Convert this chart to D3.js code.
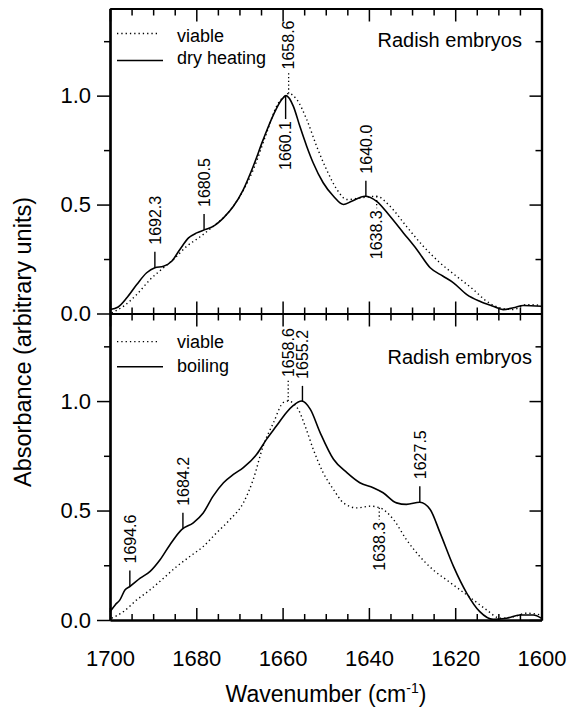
<!DOCTYPE html>
<html>
<head>
<meta charset="utf-8">
<script src="https://cdn.jsdelivr.net/npm/d3@7"></script>
<style>
  body { margin: 0; background: #fff; }
  text { font-family: "Liberation Sans", Arial, sans-serif; fill: #000; }
</style>
</head>
<body>
<div id="chart"></div>
<script>
// ---- data ----
// top panel: dry heating vs viable
dryW = [1700, 1698.1, 1696.1, 1693.8, 1691.5, 1689.6, 1687.6, 1685.7, 1683.8, 1681.8, 1679.9, 1678, 1676.1, 1673.7, 1671.4, 1669.1, 1666.8, 1664.5, 1662.1, 1660.2, 1659.2, 1657.5, 1656, 1654.4, 1652.9, 1650.6, 1648.2, 1645.9, 1644, 1640.9, 1638.2, 1635.1, 1632, 1628.9, 1625.8, 1622.8, 1620.4, 1617.3, 1614.3, 1611.2, 1608.9, 1606.5, 1604.2, 1600]
dryA = [0.018, 0.03, 0.072, 0.133, 0.187, 0.21, 0.217, 0.24, 0.294, 0.347, 0.37, 0.385, 0.40, 0.439, 0.492, 0.569, 0.676, 0.798, 0.913, 0.982, 1.0, 0.951, 0.859, 0.767, 0.691, 0.6, 0.538, 0.5, 0.515, 0.538, 0.515, 0.446, 0.37, 0.294, 0.21, 0.171, 0.141, 0.087, 0.056, 0.033, 0.018, 0.026, 0.037, 0.033]
viableTopW = [1699.6, 1696.9, 1693.8, 1690.7, 1687.6, 1685.3, 1682.2, 1679.1, 1676.1, 1673, 1669.9, 1666.8, 1663.7, 1661.4, 1659.4, 1658.6, 1656.7, 1654.4, 1652.1, 1649.8, 1647.4, 1645.1, 1642.1, 1638.2, 1635.1, 1631.3, 1627.4, 1623.5, 1619.7, 1615.8, 1612.7, 1609.6, 1606.5, 1603.5, 1600]
viableTopA = [0.003, 0.033, 0.087, 0.156, 0.21, 0.248, 0.309, 0.352, 0.40, 0.454, 0.538, 0.66, 0.829, 0.951, 1.0, 1.01, 0.982, 0.89, 0.767, 0.66, 0.569, 0.523, 0.53, 0.538, 0.492, 0.40, 0.309, 0.232, 0.171, 0.11, 0.056, 0.026, 0.018, 0.041, 0.037]

// bottom panel: boiling vs viable
boilW = [1700, 1698.8, 1697.7, 1696.5, 1695.4, 1693, 1690.7, 1688.4, 1686.1, 1683.4, 1680.7, 1678.4, 1676.1, 1673.7, 1671.4, 1669.1, 1666, 1663.7, 1661.4, 1659.1, 1657.5, 1655.6, 1653.6, 1651.3, 1648.2, 1645.1, 1642.1, 1639, 1636.7, 1633.6, 1631.3, 1628.2, 1625.8, 1623.5, 1620.4, 1617.3, 1614.3, 1611.2, 1608.1, 1605, 1601.9, 1600]
boilA = [0.038, 0.069, 0.092, 0.138, 0.153, 0.191, 0.222, 0.275, 0.344, 0.413, 0.444, 0.489, 0.566, 0.627, 0.665, 0.696, 0.757, 0.826, 0.887, 0.948, 0.98, 1.0, 0.963, 0.856, 0.734, 0.673, 0.627, 0.604, 0.581, 0.535, 0.528, 0.538, 0.505, 0.398, 0.245, 0.122, 0.038, 0.003, 0.008, 0.023, 0.023, 0.008]
viableBotW = [1699.6, 1696.9, 1693.8, 1690.7, 1687.6, 1684.5, 1681.5, 1678.4, 1675.3, 1672.2, 1669.1, 1666.8, 1664.5, 1662.1, 1659.8, 1658.7, 1656.4, 1654.8, 1652.9, 1650.6, 1648.2, 1645.9, 1642.8, 1639.7, 1637.4, 1634.3, 1631.3, 1628.2, 1625.1, 1622, 1618.9, 1615.8, 1612.7, 1609.6, 1606.5, 1603.5, 1600]
viableBotA = [0.008, 0.038, 0.092, 0.138, 0.191, 0.245, 0.29, 0.336, 0.398, 0.459, 0.535, 0.642, 0.795, 0.902, 0.994, 1.0, 0.963, 0.887, 0.78, 0.673, 0.596, 0.535, 0.512, 0.52, 0.512, 0.459, 0.367, 0.29, 0.229, 0.183, 0.138, 0.092, 0.046, 0.008, 0.015, 0.031, 0.023]

// peak annotations
topMarkLabels = ["1692.3", "1680.5", "1658.6", "1660.1", "1640.0", "1638.3"]
topMarkAt = [1689.6, 1678.2, 1658.6, 1659.3, 1640.7, 1638.2]
topMarkSeries = ["treated", "treated", "viable", "treated", "treated", "viable"]
topMarkDir = ["up", "up", "up", "down", "up", "down"]
botMarkLabels = ["1694.6", "1684.2", "1658.6", "1655.2", "1627.5", "1638.3"]
botMarkAt = [1695.4, 1683.1, 1658.7, 1655.4, 1628.2, 1637.6]
botMarkSeries = ["treated", "treated", "viable", "treated", "treated", "viable"]
botMarkDir = ["up", "up", "up", "up", "up", "down"]

topLegend = ["viable", "dry heating"]
botLegend = ["viable", "boiling"]
panelTitle = "Radish embryos"

xMajor = [1700, 1680, 1660, 1640, 1620, 1600]
xMinor = d3.range(1695, 1600, -5).filter(d => d % 20 != 0)
yMajor = [0, 0.5, 1.0]
yMinor = [0.25, 0.75, 1.25]

// ---- layout ----
width = 569, height = 717
svg = d3.select("#chart").append("svg")
  .attr("width", width).attr("height", height)

x = d3.scaleLinear().domain([1700, 1600]).range([110, 541.5])
yTop = d3.scaleLinear().domain([0, 1.4]).range([313.5, 8.5])
yBot = d3.scaleLinear().domain([0, 1.4]).range([620, 313.5])

zip = (w, a) => w.map((d, i) => ({w: d, a: a[i]}))
panels = [
  {y: yTop, viable: zip(viableTopW, viableTopA), treated: zip(dryW, dryA), legend: topLegend,
   marks: topMarkLabels.map((l, i) => ({label: l, at: topMarkAt[i], series: topMarkSeries[i], dir: topMarkDir[i]})),
   legendY: [33.5, 60.5], legendBase: [41.5, 63.5], titleBase: 47},
  {y: yBot, viable: zip(viableBotW, viableBotA), treated: zip(boilW, boilA), legend: botLegend,
   marks: botMarkLabels.map((l, i) => ({label: l, at: botMarkAt[i], series: botMarkSeries[i], dir: botMarkDir[i]})),
   legendY: [341.7, 366.7], legendBase: [348, 371.5], titleBase: 364}
]

// linear lookup of a curve value at wavenumber w
function valueAt(pts, w) {
  for (let i = 0; i < pts.length - 1; i++) {
    let p = pts[i], q = pts[i + 1]
    if (w <= p.w && w >= q.w) return p.a + (q.a - p.a) * (p.w - w) / (p.w - q.w)
  }
  return pts[pts.length - 1].a
}

function styleAxis(g, sw) {
  g.select(".domain").attr("stroke", "#000").attr("stroke-width", 2)
  g.selectAll(".tick line").attr("stroke", "#000").attr("stroke-width", sw || 1.5)
  g.selectAll("text").remove()
}

panels.forEach(function(p, pi) {
  let y = p.y
  let y0 = y.range()[0], y1 = y.range()[1]

  // curves
  let line = d3.line().x(d => x(d.w)).y(d => y(d.a)).curve(d3.curveMonotoneX)
  svg.append("path").datum(p.viable)
    .attr("d", line).attr("fill", "none").attr("stroke", "#000")
    .attr("stroke-width", 1.4).attr("stroke-dasharray", "1.3,3")
  svg.append("path").datum(p.treated)
    .attr("d", line).attr("fill", "none").attr("stroke", "#000")
    .attr("stroke-width", 1.6)

  // left axis, ticks outward
  svg.append("g").attr("transform", `translate(${x.range()[0]},0)`)
    .call(d3.axisLeft(y).tickValues(yMajor).tickSize(13).tickSizeOuter(0)).call(styleAxis)
  svg.append("g").attr("transform", `translate(${x.range()[0]},0)`)
    .call(d3.axisLeft(y).tickValues(yMinor).tickSize(6).tickSizeOuter(0)).call(styleAxis)
  svg.append("g").attr("transform", `translate(${x.range()[0]},0)`)
    .call(d3.axisLeft(y).tickValues(yMajor).tickSize(0).tickPadding(19).tickFormat(d3.format(".1f")))
    .call(g => g.select(".domain").remove())
    .selectAll("text").style("font-size", "22px")

  // right axis, ticks inward
  svg.append("g").attr("transform", `translate(${x.range()[1]},0)`)
    .call(d3.axisRight(y).tickValues(yMajor).tickSize(-12).tickSizeOuter(0)).call(styleAxis)
  svg.append("g").attr("transform", `translate(${x.range()[1]},0)`)
    .call(d3.axisRight(y).tickValues(yMinor).tickSize(-6).tickSizeOuter(0)).call(styleAxis)

  // top and bottom of the panel, ticks inward
  svg.append("g").attr("transform", `translate(0,${y1})`)
    .call(d3.axisTop(x).tickValues(xMajor).tickSize(-13).tickSizeOuter(0)).call(styleAxis)
  svg.append("g").attr("transform", `translate(0,${y1})`)
    .call(d3.axisTop(x).tickValues(xMinor).tickSize(-7).tickSizeOuter(0)).call(styleAxis)
  svg.append("g").attr("transform", `translate(0,${y0})`)
    .call(d3.axisBottom(x).tickValues(xMajor).tickSize(-12).tickSizeOuter(0)).call(g => styleAxis(g, 1.5))
  svg.append("g").attr("transform", `translate(0,${y0})`)
    .call(d3.axisBottom(x).tickValues(xMinor).tickSize(-6).tickSizeOuter(0)).call(styleAxis)
  svg.selectAll(".domain").attr("stroke-width", 2.2)

  // legend
  p.legend.forEach(function(l, i) {
    svg.append("line")
      .attr("x1", 117).attr("x2", i == 0 ? 160 : 163)
      .attr("y1", p.legendY[i]).attr("y2", p.legendY[i])
      .attr("stroke", "#000").attr("stroke-width", i == 0 ? 1.3 : 1.6)
      .attr("stroke-dasharray", i == 0 ? "1.3,3" : null)
    svg.append("text").attr("x", 177).attr("y", p.legendBase[i])
      .style("font-size", "18px").text(l)
  })

  svg.append("text")
    .attr("x", pi == 0 ? 522 : 532).attr("y", p.titleBase)
    .attr("text-anchor", "end").style("font-size", "20px")
    .text(panelTitle)

  // peak markers
  p.marks.forEach(function(m) {
    let pts = m.series == "viable" ? p.viable : p.treated
    let cx = x(m.at), cy = y(valueAt(pts, m.at))
    let dotted = m.series == "viable"
    let len = m.dir == "up" ? (dotted ? 22 : 16) : (dotted ? 12 : 23)
    let gap = (m.dir == "up" && !dotted) ? 7 : 2
    let ey = m.dir == "up" ? cy - len : cy + len
    svg.append("line")
      .attr("x1", cx).attr("x2", cx).attr("y1", cy).attr("y2", ey)
      .attr("stroke", "#000").attr("stroke-width", dotted ? 1.3 : 1.4)
      .attr("stroke-dasharray", dotted ? "1.3,2.5" : null)
    let ly = m.dir == "up" ? ey - gap : ey + gap
    svg.append("text")
      .attr("transform", `translate(${cx},${ly}) rotate(-90)`)
      .attr("dy", "0.36em")
      .attr("text-anchor", m.dir == "up" ? "start" : "end")
      .style("font-size", "16px")
      .text(m.label)
  })
})

// x tick labels under the lower panel
svg.append("g").attr("transform", `translate(0,${yBot.range()[0]})`)
  .call(d3.axisBottom(x).tickValues(xMajor).tickSize(0).tickPadding(30).tickFormat(d3.format("d")))
  .call(g => g.select(".domain").remove())
  .selectAll("text").style("font-size", "22px")

// axis titles
svg.append("text")
  .attr("transform", "translate(31,342) rotate(-90)")
  .attr("text-anchor", "middle").style("font-size", "23.5px")
  .text("Absorbance (arbitrary units)")

xt = svg.append("text")
  .attr("x", 326).attr("y", 702)
  .attr("text-anchor", "middle").style("font-size", "23px")
xt.append("tspan").text("Wavenumber (cm")
xt.append("tspan").attr("dy", -9).style("font-size", "14px").text("-1")
xt.append("tspan").attr("dy", 9).text(")")
</script>
</body>
</html>
